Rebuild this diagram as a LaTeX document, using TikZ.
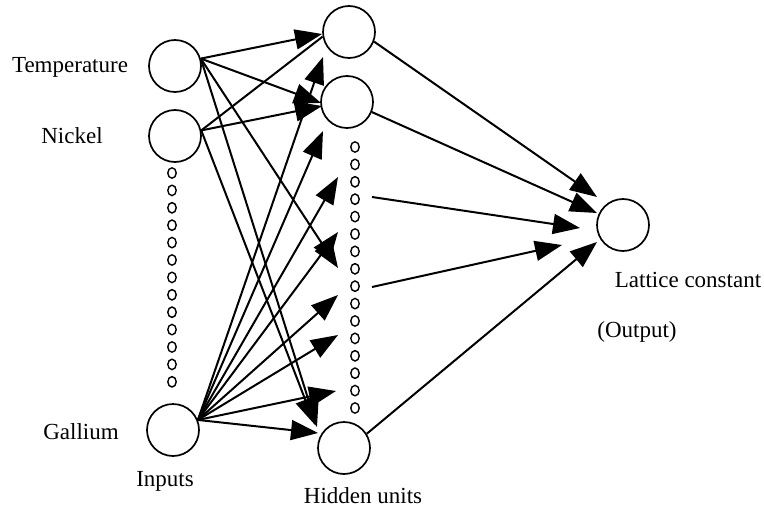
\documentclass[tikz,border=0pt]{standalone}
\usepackage{fontspec}
\setmainfont{Liberation Serif}
\usetikzlibrary{arrows.meta}
\begin{document}
\begin{tikzpicture}[x=0.5pt,y=-0.5pt,
  neuron/.style={draw,circle,minimum size=26pt,inner sep=0pt,line width=0.85pt},
  lbl/.style={font=\fontsize{11.5}{13}\selectfont,inner sep=0pt},
  link/.style={line width=1pt},
  arr/.style={line width=1pt,-{Triangle[length=13.5pt,width=10pt]}}]
\useasboundingbox (0,0) rectangle (764,513);
% neurons
\node[neuron] (T) at (175,66) {};
\node[neuron] (N) at (175,136) {};
\node[neuron] (G) at (173,430) {};
\node[neuron] (H1) at (349,32) {};
\node[neuron] (H2) at (347,102) {};
\node[neuron] (H3) at (344,448) {};
\node[neuron] (O) at (623,225) {};
% dotted columns
\foreach \i in {0,...,12} {
  \draw[line width=0.7pt] (172,{173+17.4*\i}) ellipse [x radius=4.2, y radius=5.2];
}
\foreach \i in {0,...,15} {
  \draw[line width=0.7pt] (355,{147+17.4*\i}) ellipse [x radius=4.2, y radius=5.2];
}
% labels
\node[lbl] (lT) at (70,67) {Temperature};
\node[lbl] (lN) at (72,136) {Nickel};
\node[lbl] (lG) at (81,432) {Gallium};
\node[lbl] (lI) at (165,481) {Inputs};
\node[lbl] (lH) at (363,496) {Hidden units};
\node[lbl] (lL) at (688,280) {Lattice constant};
\node[lbl] (lO) at (637,332) {(Output)};
% arrow tips
\coordinate (tH1a) at (322,34);
\coordinate (tH1b) at (323,57);
\coordinate (tH2a) at (321,103);
\coordinate (tH2b) at (322,106);
\coordinate (tH2c) at (323,131);
\coordinate (td1) at (338,177);
\coordinate (td2) at (338,232);
\coordinate (td3) at (338,268);
\coordinate (td4) at (338,295);
\coordinate (td5) at (338,335);
\coordinate (td6) at (336,391);
\coordinate (tH3a) at (317,427);
\coordinate (tH3b) at (315,425);
\coordinate (tH3c) at (318,433);
% sources on hidden dots
\coordinate (sd1) at (372,197);
\coordinate (sd2) at (372,287);
% output tips
\coordinate (to1) at (597,197);
\coordinate (to2) at (597,213);
\coordinate (to3) at (580,228);
\coordinate (to4) at (562,245);
\coordinate (to5) at (597,242);
% input -> hidden
\draw[arr] (T.16) -- (tH1a);
\draw[arr] (T.16) -- (tH2a);
\draw[arr] (T.16) -- (td3);
\draw[arr] (T.16) -- (tH3a);
\draw[link] (N.12) -- (H1.190);
\draw[arr] (N.12) -- (tH2b);
\draw[arr] (N.12) -- (tH3b);
\draw[arr] (G.22) -- (tH1b);
\draw[arr] (G.22) -- (tH2c);
\draw[arr] (G.22) -- (td1);
\draw[arr] (G.22) -- (td2);
\draw[arr] (G.22) -- (td4);
\draw[arr] (G.22) -- (td5);
\draw[arr] (G.22) -- (td6);
\draw[arr] (G.22) -- (tH3c);
% hidden -> output
\draw[arr] (H1.339) -- (to1);
\draw[arr] (H2.338) -- (to2);
\draw[arr] (sd1) -- (to3);
\draw[arr] (sd2) -- (to4);
\draw[arr] (H3.32) -- (to5);
\end{tikzpicture}
\end{document}
